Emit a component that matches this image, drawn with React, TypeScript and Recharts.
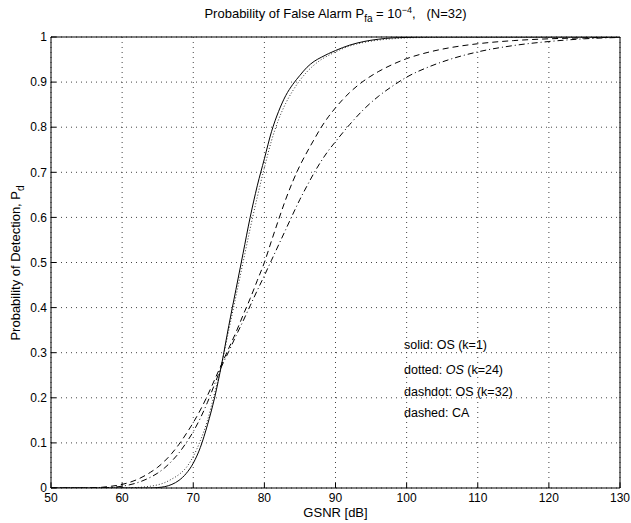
import React from 'react';
import { LineChart, Line, XAxis, YAxis, CartesianGrid } from 'recharts';

// GSNR grid shared by all four curves
const gsnr = [
  50, 55, 58, 60, 62, 64, 65, 66, 67, 68, 69, 70, 71, 72, 73, 74, 75, 76, 77, 78, 79, 80,
  81, 82, 83, 84, 85, 86, 87, 88, 89, 90, 92, 94, 96, 98, 100, 103, 106, 110, 115, 120, 125, 130,
];

// solid: OS (k=1)
const pdOs1 = [
  0, 0, 0, 0, 0, 0, 0.001, 0.003, 0.008, 0.017, 0.032, 0.055, 0.09, 0.14, 0.2, 0.275, 0.36, 0.44, 0.52, 0.6, 0.67, 0.73,
  0.79, 0.835, 0.87, 0.895, 0.915, 0.933, 0.946, 0.955, 0.963, 0.97, 0.982, 0.99, 0.995, 0.998, 0.999, 1, 1, 1, 1, 1, 1, 1,
];

// dotted: OS (k=24)
const pdOs24 = [
  0, 0, 0, 0, 0.001, 0.004, 0.007, 0.012, 0.02, 0.03, 0.045, 0.07, 0.105, 0.15, 0.21, 0.275, 0.35, 0.425, 0.5, 0.575, 0.645, 0.71,
  0.77, 0.817, 0.853, 0.881, 0.904, 0.923, 0.938, 0.95, 0.959, 0.967, 0.98, 0.988, 0.993, 0.996, 0.998, 0.999, 1, 1, 1, 1, 1, 1,
];

// dashdot: OS (k=32)
const pdOs32 = [
  0, 0, 0.001, 0.004, 0.011, 0.024, 0.033, 0.045, 0.06, 0.078, 0.1, 0.125, 0.155, 0.19, 0.23, 0.27, 0.303, 0.337, 0.37, 0.404, 0.438, 0.471,
  0.505, 0.539, 0.573, 0.607, 0.64, 0.67, 0.699, 0.725, 0.748, 0.768, 0.806, 0.84, 0.868, 0.891, 0.911, 0.933, 0.95, 0.967, 0.981, 0.99, 0.996, 0.999,
];

// dashed: CA
const pdCa = [
  0, 0, 0.003, 0.008, 0.018, 0.035, 0.046, 0.06, 0.077, 0.097, 0.12, 0.145, 0.173, 0.205, 0.24, 0.275, 0.31, 0.345, 0.383, 0.42, 0.46, 0.5,
  0.548, 0.595, 0.64, 0.68, 0.715, 0.745, 0.773, 0.8, 0.823, 0.843, 0.877, 0.903, 0.923, 0.939, 0.952, 0.966, 0.976, 0.985, 0.992, 0.996, 0.998, 1,
];

const xTicks = [50, 60, 70, 80, 90, 100, 110, 120, 130];
const yTicks = [0, 0.1, 0.2, 0.3, 0.4, 0.5, 0.6, 0.7, 0.8, 0.9, 1];

const notes = ['solid: OS (k=1)', 'dotted: OS (k=24)', 'dashdot: OS (k=32)', 'dashed: CA'];
const noteTops = [338, 363, 385, 406];

const data = gsnr.map((x, i) => ({
  x,
  os1: pdOs1[i],
  os24: pdOs24[i],
  os32: pdOs32[i],
  ca: pdCa[i],
}));

const font = '"Liberation Sans", Arial, Helvetica, sans-serif';
const tickStyle = { fill: '#000', fontSize: 12, fontFamily: font };

export default function App() {
  return (
    <div style={{ position: 'relative', width: 631, height: 523, background: '#fff', fontFamily: font, color: '#000' }}>
      <style>{'body{margin:0}'}</style>
      <LineChart width={631} height={523} data={data} margin={{ top: 36, right: 10, bottom: 15, left: 21 }}>
        <CartesianGrid stroke="#444" strokeDasharray="1 4" />
        <XAxis
          dataKey="x"
          type="number"
          domain={[50, 130]}
          ticks={xTicks}
          height={20}
          tickSize={-5}
          tickMargin={10}
          stroke="#000"
          tick={tickStyle}
          allowDataOverflow
        />
        <XAxis
          xAxisId="top"
          orientation="top"
          type="number"
          domain={[50, 130]}
          ticks={xTicks}
          height={1}
          tickSize={-5}
          tick={false}
          stroke="#000"
          allowDataOverflow
        />
        <YAxis
          type="number"
          domain={[0, 1]}
          ticks={yTicks}
          width={30}
          tickSize={-5}
          tickMargin={9}
          stroke="#000"
          tick={tickStyle}
          allowDataOverflow
        />
        <YAxis
          yAxisId="right"
          orientation="right"
          type="number"
          domain={[0, 1]}
          ticks={yTicks}
          width={1}
          tickSize={-5}
          tick={false}
          stroke="#000"
          allowDataOverflow
        />
        <Line dataKey="os24" type="monotone" stroke="#333" strokeWidth={1} strokeDasharray="1 2" dot={false} isAnimationActive={false} />
        <Line dataKey="os32" type="monotone" stroke="#000" strokeWidth={1} strokeDasharray="6 3 1 3" dot={false} isAnimationActive={false} />
        <Line dataKey="ca" type="monotone" stroke="#000" strokeWidth={1} strokeDasharray="6 4" dot={false} isAnimationActive={false} />
        <Line dataKey="os1" type="monotone" stroke="#000" strokeWidth={1} dot={false} isAnimationActive={false} />
      </LineChart>

      <div style={{ position: 'absolute', left: 51, width: 569, top: 5, textAlign: 'center', fontSize: 13, whiteSpace: 'pre' }}>
        Probability of False Alarm P<sub style={{ fontSize: 10 }}>fa</sub> = 10<sup style={{ fontSize: 9 }}>−4</sup>,   (N=32)
      </div>

      <div
        style={{
          position: 'absolute',
          left: 18,
          top: 263,
          transform: 'translate(-50%, -50%) rotate(-90deg)',
          fontSize: 13,
          lineHeight: '15px',
          whiteSpace: 'nowrap',
        }}
      >
        Probability of Detection, P<sub style={{ fontSize: 10 }}>d</sub>
      </div>

      <div style={{ position: 'absolute', left: 51, width: 569, top: 505, textAlign: 'center', fontSize: 13 }}>
        GSNR [dB]
      </div>

      {notes.map((t, i) => (
        <div
          key={t}
          style={{ position: 'absolute', left: 404, top: noteTops[i], fontSize: 12.5, whiteSpace: 'nowrap' }}
        >
          {i === 1 ? (
            <>
              dotted: <i>OS</i> (k=24)
            </>
          ) : (
            t
          )}
        </div>
      ))}
    </div>
  );
}
